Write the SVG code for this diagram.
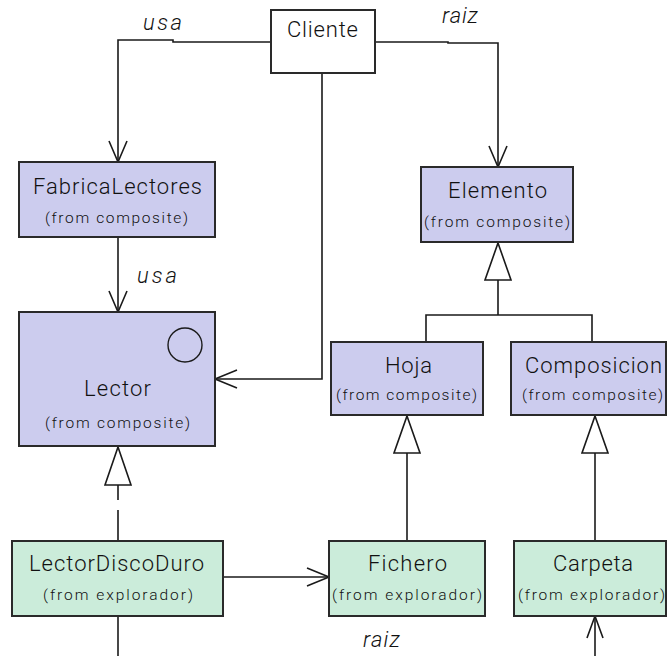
<svg xmlns="http://www.w3.org/2000/svg" width="667" height="656" viewBox="0 0 667 656">
  <style>
    .cls-a { fill: #ccccee; stroke: #2a2a2a; stroke-width: 2; }
    .cls-b { fill: #cbecda; stroke: #2a2a2a; stroke-width: 2; }
    .plain { fill: #ffffff; stroke: #2a2a2a; stroke-width: 2; }
    .name { font-family: Roboto, "Liberation Sans", Arial, sans-serif; font-weight: 300; font-size: 22px; fill: #111111; }
    .pkg { font-family: Roboto, "Liberation Sans", Arial, sans-serif; font-weight: 300; font-size: 15.5px; fill: #111111; }
    .role { font-family: Roboto, "Liberation Sans", Arial, sans-serif; font-weight: 300; font-size: 22px; font-style: italic; fill: #111111; }
    .edge { fill: none; stroke: #1a1a1a; stroke-width: 1.6; }
    .head { fill: none; stroke: #1a1a1a; stroke-width: 1.6; }
    .tri { fill: #ffffff; stroke: #1a1a1a; stroke-width: 1.6; }
  </style>

  <!-- connectors -->
  <g id="connectors">
    <!-- Cliente uses FabricaLectores -->
    <path class="edge" d="M271,42 H173 V40 H118 V161"/>
    <path class="head" d="M109,141 L118,162 L127,141"/>
    <text class="role" x="143" y="30" textLength="39" lengthAdjust="spacing">usa</text>

    <!-- Cliente raiz Elemento -->
    <path class="edge" d="M375,42 H448 V43 H498 V166"/>
    <path class="head" d="M489,146 L498,167 L507,146"/>
    <text class="role" x="442" y="23" textLength="36" lengthAdjust="spacing">raiz</text>

    <!-- Cliente to Lector -->
    <path class="edge" d="M322,73 V379 H216"/>
    <path class="head" d="M237,370 L215,379 L237,388"/>

    <!-- FabricaLectores uses Lector -->
    <path class="edge" d="M118,237 V311"/>
    <path class="head" d="M109,291 L118,312 L127,291"/>
    <text class="role" x="137" y="283" textLength="40" lengthAdjust="spacing">usa</text>

    <!-- LectorDiscoDuro realizes Lector -->
    <path class="edge" d="M118,485 V541" stroke-dasharray="15 10 31"/>
    <path class="tri" d="M118,447 L131,485 L105,485 Z"/>

    <!-- Hoja / Composicion generalize Elemento -->
    <path class="edge" d="M498,280 V315 M426,342 V315 H592 V342"/>
    <path class="tri" d="M498,243 L511,280 L485,280 Z"/>

    <!-- Fichero generalizes Hoja -->
    <path class="edge" d="M407,453 V541"/>
    <path class="tri" d="M407,416 L420,453 L394,453 Z"/>

    <!-- Carpeta generalizes Composicion -->
    <path class="edge" d="M595,453 V541"/>
    <path class="tri" d="M595,416 L608,453 L582,453 Z"/>

    <!-- LectorDiscoDuro to Fichero -->
    <path class="edge" d="M223,577 H328"/>
    <path class="head" d="M307,568 L329,577 L307,586"/>

    <!-- lines leaving the bottom edge -->
    <path class="edge" d="M118,616 V656"/>
    <path class="edge" d="M595,656 V617"/>
    <path class="head" d="M587,638 L595,616 L603,638"/>
    <text class="role" x="363" y="647" textLength="37" lengthAdjust="spacing">raiz</text>
  </g>

  <g id="Cliente">
    <rect class="plain" x="271" y="10" width="104" height="63"/>
    <text class="name" x="287" y="37" textLength="71" lengthAdjust="spacing">Cliente</text>
  </g>

  <g id="FabricaLectores">
    <rect class="cls-a" x="19" y="162" width="196" height="75"/>
    <text class="name" x="33" y="194" textLength="169" lengthAdjust="spacing">FabricaLectores</text>
    <text class="pkg" x="45" y="223" textLength="143" lengthAdjust="spacing">(from composite)</text>
  </g>

  <g id="Lector">
    <rect class="cls-a" x="19" y="312" width="196" height="134"/>
    <circle cx="185" cy="345" r="17" fill="none" stroke="#1a1a1a" stroke-width="1.4"/>
    <text class="name" x="84" y="396" textLength="67" lengthAdjust="spacing">Lector</text>
    <text class="pkg" x="45" y="428" textLength="145" lengthAdjust="spacing">(from composite)</text>
  </g>

  <g id="Elemento">
    <rect class="cls-a" x="421" y="167" width="152" height="75"/>
    <text class="name" x="448" y="198" textLength="99" lengthAdjust="spacing">Elemento</text>
    <text class="pkg" x="424" y="227" textLength="146" lengthAdjust="spacing">(from composite)</text>
  </g>

  <g id="Hoja">
    <rect class="cls-a" x="331" y="342" width="152" height="73"/>
    <text class="name" x="385" y="373" textLength="47" lengthAdjust="spacing">Hoja</text>
    <text class="pkg" x="336" y="400" textLength="141" lengthAdjust="spacing">(from composite)</text>
  </g>

  <g id="Composicion">
    <rect class="cls-a" x="511" y="342" width="155" height="73"/>
    <text class="name" x="525" y="373" textLength="137" lengthAdjust="spacing">Composicion</text>
    <text class="pkg" x="522" y="400" textLength="141" lengthAdjust="spacing">(from composite)</text>
  </g>

  <g id="LectorDiscoDuro">
    <rect class="cls-b" x="12" y="541" width="211" height="75"/>
    <text class="name" x="29" y="571" textLength="175" lengthAdjust="spacing">LectorDiscoDuro</text>
    <text class="pkg" x="43" y="600" textLength="150" lengthAdjust="spacing">(from explorador)</text>
  </g>

  <g id="Fichero">
    <rect class="cls-b" x="329" y="541" width="156" height="75"/>
    <text class="name" x="368" y="571" textLength="79" lengthAdjust="spacing">Fichero</text>
    <text class="pkg" x="332" y="600" textLength="150" lengthAdjust="spacing">(from explorador)</text>
  </g>

  <g id="Carpeta">
    <rect class="cls-b" x="514" y="541" width="152" height="75"/>
    <text class="name" x="553" y="571" textLength="80" lengthAdjust="spacing">Carpeta</text>
    <text class="pkg" x="518" y="600" textLength="147" lengthAdjust="spacing">(from explorador)</text>
  </g>
</svg>
